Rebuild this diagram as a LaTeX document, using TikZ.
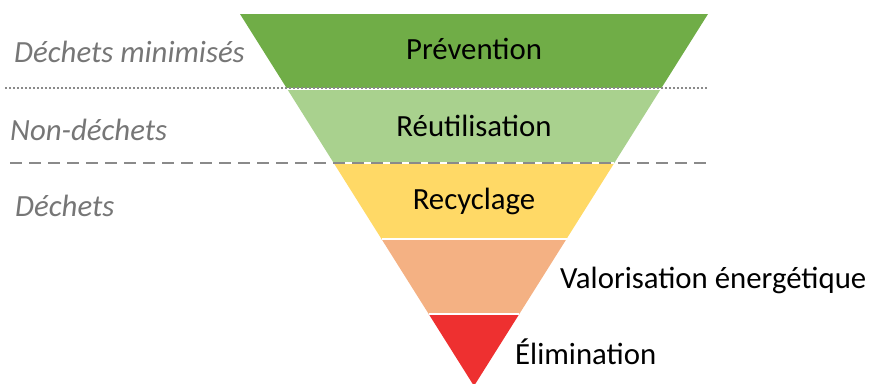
\documentclass[tikz,border=0pt]{standalone}
\usepackage{fontspec}
\setmainfont{Carlito}
\definecolor{gA}{HTML}{70AD47}
\definecolor{gB}{HTML}{A9D18E}
\definecolor{yC}{HTML}{FFD966}
\definecolor{oD}{HTML}{F4B183}
\definecolor{rE}{HTML}{EE3030}
\definecolor{grayline}{HTML}{8A8A8A}
\definecolor{graytext}{HTML}{767676}
\tikzset{
  band/.style={draw=white, line width=1.2pt},
  lvl/.style={font=\fontsize{30.8}{34}\selectfont, text=black, inner sep=0pt},
  side/.style={font=\fontsize{30.8}{34}\selectfont\itshape, text=graytext, inner sep=0pt, anchor=west},
  dotline/.style={grayline, line width=2pt, dash pattern=on 2pt off 2pt},
  dashline/.style={grayline, line width=2.5pt, dash pattern=on 12pt off 7pt},
}
\begin{document}
\begin{tikzpicture}[x=1pt,y=-1pt]
\useasboundingbox (0,0) rectangle (869,383);
\clip (0,0) rectangle (869,383);
% bands
\fill[gA] (240,14) -- (708,14) -- (660.8,89) -- (287.2,89) -- cycle;
\fill[gB] (287.2,89) -- (660.8,89) -- (614.3,163) -- (333.7,163) -- cycle;
\fill[yC] (333.7,163) -- (614.3,163) -- (566.5,239) -- (381.5,239) -- cycle;
\fill[oD] (381.5,239) -- (566.5,239) -- (519.3,314) -- (428.7,314) -- cycle;
\fill[rE] (428.7,314) -- (519.3,314) -- (474,386) -- cycle;
\draw[band] (287.2,89) -- (660.8,89);
\draw[band] (333.7,163) -- (614.3,163);
\draw[band] (381.5,239) -- (566.5,239);
\draw[band] (428.7,314) -- (519.3,314);
% separator lines
\coordinate (d1) at (5,88);
\coordinate (d2) at (708,88);
\coordinate (e1) at (10,163);
\coordinate (e2) at (710,163);
\draw[dotline] (d1) -- (d2);
\draw[dashline] (e1) -- (e2);
% level labels
\node[lvl] (p) at (474,49) {Prévention};
\node[lvl] (r) at (474,126) {Réutilisation};
\node[lvl] (c) at (474,201) {Recyclage};
\node[lvl, anchor=west] (v) at (560,280) {Valorisation énergétique};
\node[lvl, anchor=west] (e) at (515,352) {Élimination};
% side labels
\node[side] (s1) at (14,52) {Déchets minimisés};
\node[side] (s2) at (10,130) {Non-déchets};
\node[side] (s3) at (15,206) {Déchets};
\end{tikzpicture}
\end{document}
